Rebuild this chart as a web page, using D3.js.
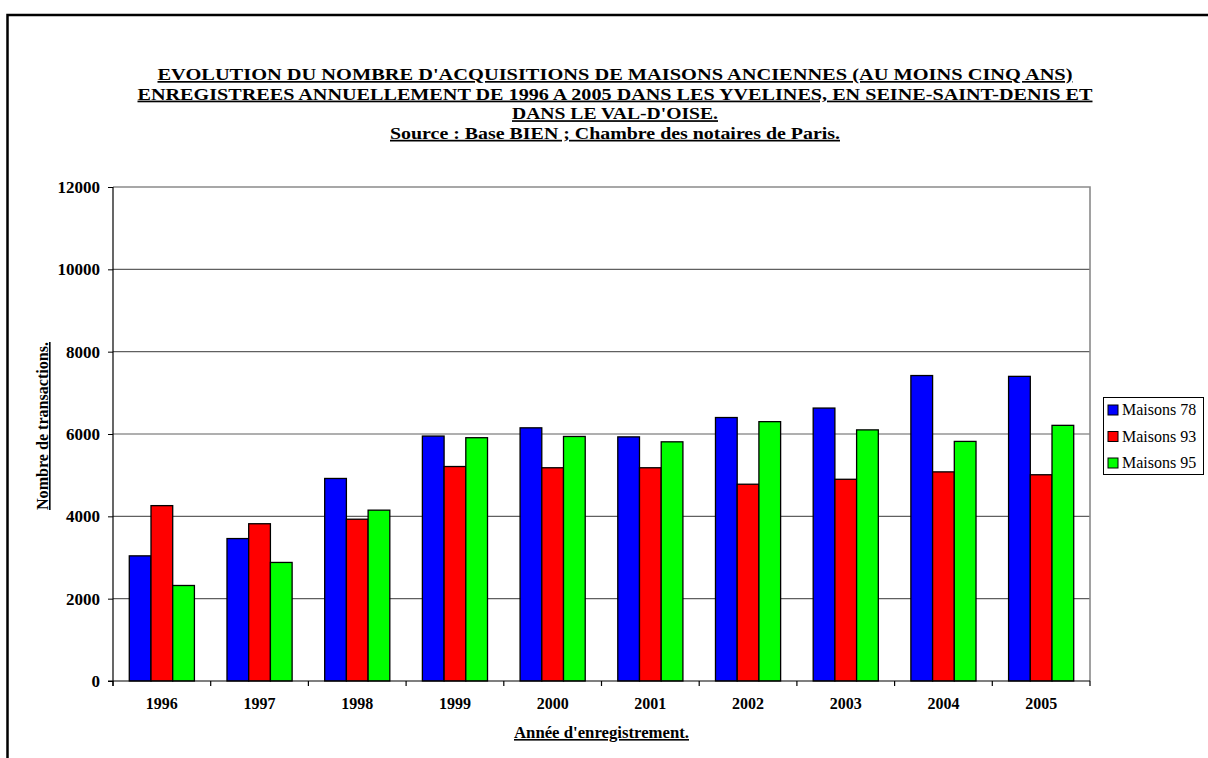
<!DOCTYPE html>
<html><head><meta charset="utf-8">
<script src="https://cdn.jsdelivr.net/npm/d3@7"></script>
<style>html,body{margin:0;padding:0;background:#fff;}svg{display:block;}</style>
</head><body>
<script>
const years = ["1996","1997","1998","1999","2000","2001","2002","2003","2004","2005"];
const seriesNames = ["Maisons 78","Maisons 93","Maisons 95"];
const maisons78 = [3040, 3460, 4920, 5950, 6150, 5930, 6400, 6630, 7420, 7400];
const maisons93 = [4260, 3820, 3930, 5210, 5180, 5180, 4780, 4900, 5080, 5010];
const maisons95 = [2320, 2880, 4150, 5910, 5940, 5810, 6300, 6100, 5820, 6210];
const yTicks = [0, 2000, 4000, 6000, 8000, 10000, 12000];
const titleLines = [
  "EVOLUTION DU NOMBRE D'ACQUISITIONS DE MAISONS ANCIENNES (AU MOINS CINQ ANS)",
  "ENREGISTREES ANNUELLEMENT DE 1996 A 2005 DANS LES YVELINES, EN SEINE-SAINT-DENIS ET",
  "DANS LE VAL-D'OISE.",
  "Source : Base BIEN ; Chambre des notaires de Paris."
];
const titleWidths = [915, 955, 206, 450];
const colors = ["#0000FF", "#FF0000", "#00FF00"];
const seriesData = [maisons78, maisons93, maisons95];

const W = 1208, H = 758;
const L = 113, R = 1090, T = 187, B = 681;
const font = "'Liberation Serif','Times New Roman',serif";

const svg = d3.select("body").append("svg").attr("width", W).attr("height", H)
  .style("font-family", font);
svg.append("rect").attr("width", W).attr("height", H).attr("fill", "#fff");

// outer frame
svg.append("path").attr("d", `M7.5,${H} V15 H${W}`).attr("fill", "none")
  .attr("stroke", "#000").attr("stroke-width", 2.5);

const x = d3.scaleBand().domain(years).range([L, R]);
const xs = d3.scaleBand().domain(seriesNames).range([0, x.bandwidth() * 2 / 3]);
const y = d3.scaleLinear().domain([0, 12000]).range([B, T]);

// gridlines
svg.append("g").selectAll("line").data(yTicks.filter(d => d > 0 && d < 12000)).join("line")
  .attr("x1", L).attr("x2", R).attr("y1", d => y(d)).attr("y2", d => y(d))
  .attr("stroke", "#606060").attr("stroke-width", 1.2);
// plot border top/right
svg.append("path").attr("d", `M${L},${y(12000)} H${R} V${B}`).attr("fill", "none")
  .attr("stroke", "#8a8a8a").attr("stroke-width", 1.6);

// bars
seriesData.forEach((vals, si) => {
  svg.append("g").selectAll("rect").data(years).join("rect")
    .attr("x", (d) => x(d) + x.bandwidth() / 6 + xs(seriesNames[si]))
    .attr("width", xs.bandwidth())
    .attr("y", (d, i) => y(vals[i]))
    .attr("height", (d, i) => B - y(vals[i]))
    .attr("fill", colors[si]).attr("stroke", "#000").attr("stroke-width", 1.3);
});

// y axis
const yAxis = svg.append("g").attr("transform", `translate(${L},0)`)
  .call(d3.axisLeft(y).tickValues(yTicks).tickSize(5).tickSizeOuter(0).tickFormat(d3.format("d")));
yAxis.select(".domain").remove();
yAxis.selectAll("line").attr("stroke", "#000");
yAxis.selectAll("text").attr("x", -13).attr("font-family", font).attr("font-size", 17)
  .attr("font-weight", "bold").attr("fill", "#000");
svg.append("line").attr("x1", L).attr("x2", L).attr("y1", T).attr("y2", B + 5)
  .attr("stroke", "#000").attr("stroke-width", 1.2);

// x axis
svg.append("line").attr("x1", L - 5).attr("x2", R).attr("y1", B).attr("y2", B)
  .attr("stroke", "#000").attr("stroke-width", 1.2);
const xAxis = svg.append("g").attr("transform", `translate(0,${B})`)
  .call(d3.axisBottom(x).tickSize(0).tickPadding(17));
xAxis.select(".domain").remove();
xAxis.selectAll("text").attr("font-family", font).attr("font-size", 16)
  .attr("font-weight", "bold").attr("fill", "#000");
const boundaries = years.map(d => x(d)).concat([R]);
svg.append("g").selectAll("line").data(boundaries).join("line")
  .attr("x1", d => d).attr("x2", d => d).attr("y1", B).attr("y2", B + 5)
  .attr("stroke", "#000").attr("stroke-width", 1.2);

// title
svg.append("g").selectAll("text").data(titleLines).join("text")
  .attr("x", 615).attr("y", (d, i) => 80 + i * 19.6)
  .attr("text-anchor", "middle").attr("font-size", 17).attr("font-weight", "bold")
  .attr("textLength", (d, i) => titleWidths[i]).attr("lengthAdjust", "spacingAndGlyphs")
  .attr("text-decoration", "underline").text(d => d);

// axis titles
svg.append("text").attr("transform", "translate(48,426) rotate(-90)")
  .attr("text-anchor", "middle").attr("font-size", 16).attr("font-weight", "bold")
  .attr("textLength", 168).attr("lengthAdjust", "spacingAndGlyphs")
  .attr("text-decoration", "underline").text("Nombre de transactions.");
svg.append("text").attr("x", (L + R) / 2).attr("y", 738)
  .attr("text-anchor", "middle").attr("font-size", 16).attr("font-weight", "bold")
  .attr("textLength", 175).attr("lengthAdjust", "spacingAndGlyphs")
  .attr("text-decoration", "underline").text("Année d'enregistrement.");

// legend
const lg = svg.append("g");
lg.append("rect").attr("x", 1103.5).attr("y", 397.5).attr("width", 100).attr("height", 77)
  .attr("fill", "#fff").attr("stroke", "#000").attr("stroke-width", 1);
seriesNames.forEach((n, i) => {
  const cy = 410 + i * 26.5;
  lg.append("rect").attr("x", 1108).attr("y", cy - 5).attr("width", 10).attr("height", 10)
    .attr("fill", colors[i]).attr("stroke", "#000").attr("stroke-width", 1);
  lg.append("text").attr("x", 1122).attr("y", cy + 5).attr("font-size", 16).text(n);
});
</script>
</body></html>
